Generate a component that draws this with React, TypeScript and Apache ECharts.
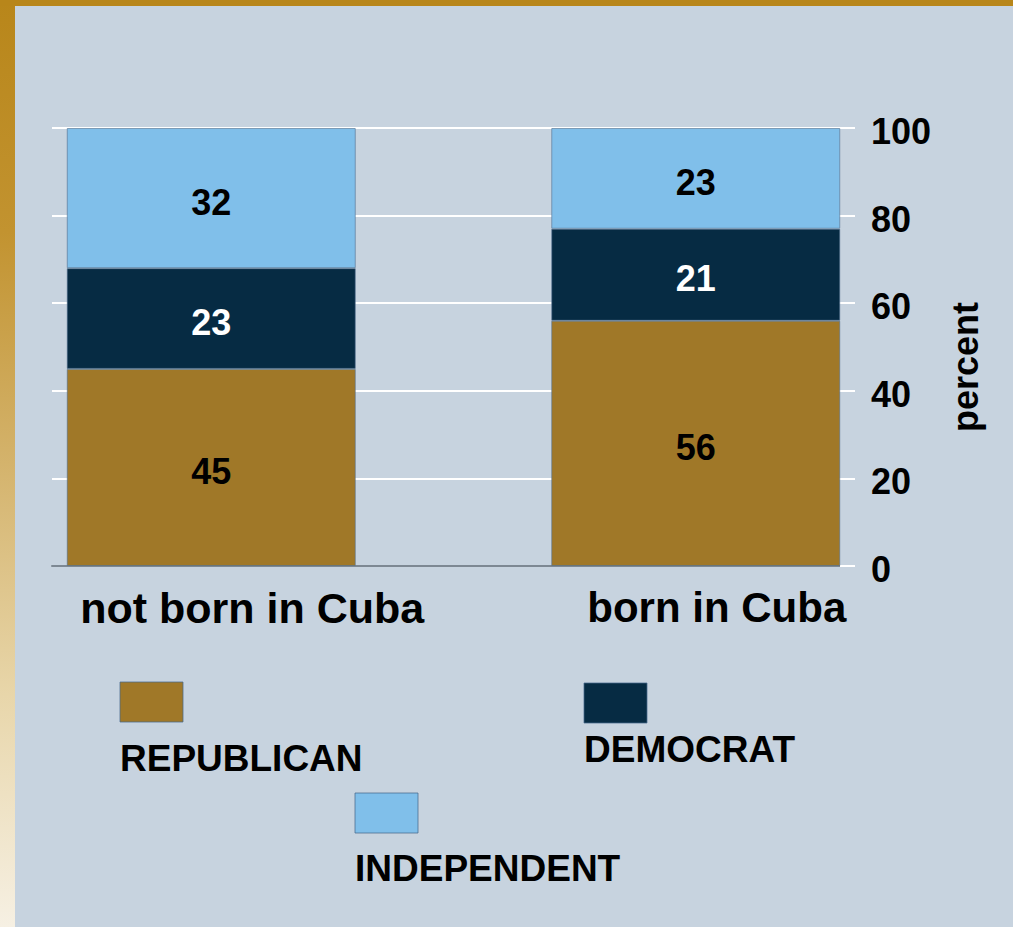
import React, { useEffect, useRef } from "react";
import * as echarts from "echarts";

const categories = ["not born in Cuba", "born in Cuba"];
const republican = [45, 56];
const democrat = [23, 21];
const independent = [32, 23];
const yTicks = [0, 20, 40, 60, 80, 100];
const axisName = "percent";

const seriesDefs = [
  { name: "REPUBLICAN", data: republican, color: "#a07828", labelColor: "#000000" },
  { name: "DEMOCRAT", data: democrat, color: "#062b43", labelColor: "#ffffff" },
  { name: "INDEPENDENT", data: independent, color: "#80bfea", labelColor: "#000000" },
];

// chart canvas is shifted left so the bar grid may start left of the page
const OFF = 31;
const CW = 1013 + OFF;

// legend layout (styling only, page coordinates)
const legendLayout = [
  { x: 120, y: 682, tx: 120, ty: 758 },
  { x: 584, y: 683, tx: 584, ty: 749 },
  { x: 355, y: 793, tx: 355, ty: 868 },
];

const FONT = "'Liberation Sans', Arial, Helvetica, sans-serif";

export default function App() {
  const ref = useRef<HTMLDivElement>(null);

  useEffect(() => {
    if (!ref.current) return;
    const chart = echarts.init(ref.current, undefined, { renderer: "svg" });

    const legendGraphics: any[] = [];
    seriesDefs.forEach((s, i) => {
      const l = legendLayout[i];
      legendGraphics.push({
        type: "rect",
        shape: { x: l.x + OFF, y: l.y, width: 63, height: 40 },
        style: { fill: s.color, stroke: "rgba(70,105,140,0.75)", lineWidth: 1 },
      });
      legendGraphics.push({
        type: "text",
        x: l.tx + OFF,
        y: l.ty,
        style: {
          text: s.name,
          fill: "#000",
          font: `bold 37px ${FONT}`,
          textAlign: "left",
          textVerticalAlign: "middle",
        },
      });
    });

    chart.setOption({
      animation: false,
      backgroundColor: "transparent",
      textStyle: { fontFamily: FONT },
      grid: [
        { left: 52 + OFF, right: 173, top: 128, bottom: 361 },
        { left: 0, right: CW - (938 + OFF), top: 128, bottom: 361 },
      ],
      xAxis: [
        {
          gridIndex: 0,
          type: "category",
          data: categories,
          axisLine: { show: true, lineStyle: { color: "#7d8893", width: 2 } },
          axisTick: { show: false },
          axisLabel: { show: false },
          splitLine: { show: false },
        },
        {
          gridIndex: 1,
          type: "category",
          data: categories,
          boundaryGap: true,
          axisLine: { show: false },
          axisTick: { show: false },
          splitLine: { show: false },
          axisLabel: {
            show: true,
            margin: 20,
            color: "#000",
            fontWeight: "bold",
            formatter: (v: string) => {
              const i = categories.indexOf(v);
              return `{c${i}|${v}}`;
            },
            rich: {
              c0: { fontSize: 43, fontWeight: "bold", color: "#000", padding: [0, 0, 0, 82], fontFamily: FONT },
              c1: { fontSize: 42, fontWeight: "bold", color: "#000", padding: [0, 0, 0, 42], fontFamily: FONT },
            },
          },
        },
      ],
      yAxis: [
        {
          gridIndex: 0,
          type: "value",
          position: "right",
          min: yTicks[0],
          max: yTicks[yTicks.length - 1],
          interval: yTicks[1] - yTicks[0],
          axisLine: { show: false },
          axisTick: { show: true, length: 15, lineStyle: { color: "#ffffff", width: 2 } },
          splitLine: { show: true, lineStyle: { color: "#ffffff", width: 2 } },
          axisLabel: {
            show: true,
            margin: 31,
            color: "#000",
            fontSize: 36,
            fontWeight: "bold",
            formatter: (v: number) => `{v|${v}}`,
            rich: {
              v: {
                fontSize: 36,
                fontWeight: "bold",
                color: "#000",
                fontFamily: FONT,
                padding: [7, 0, 0, 0],
              },
            },
          },
          name: axisName,
          nameLocation: "middle",
          nameGap: 107,
          nameTextStyle: {
            color: "#000",
            fontSize: 36,
            fontWeight: "bold",
            padding: [0, 40, 0, 0],
          },
        },
        {
          gridIndex: 1,
          type: "value",
          min: yTicks[0],
          max: yTicks[yTicks.length - 1],
          show: false,
          splitLine: { show: false },
        },
      ],
      series: seriesDefs.map((s) => ({
        type: "bar",
        name: s.name,
        xAxisIndex: 1,
        yAxisIndex: 1,
        stack: "total",
        barWidth: 289,
        data: s.data,
        itemStyle: { color: s.color, borderColor: "rgba(80,110,140,0.6)", borderWidth: 1 },
        label: {
          show: true,
          position: "inside",
          offset: [0, 4],
          color: s.labelColor,
          fontSize: 36,
          fontWeight: "bold",
          fontFamily: FONT,
        },
      })),
      graphic: legendGraphics,
    });

    return () => {
      chart.dispose();
    };
  }, []);

  return (
    <div
      style={{
        position: "fixed",
        left: 0,
        top: 0,
        width: 1013,
        height: 927,
        background:
          "linear-gradient(to bottom, #b8861a 0%, #c29330 25%, #d4b36c 50%, #e8d6aa 75%, #f6f0e3 100%)",
        overflow: "hidden",
      }}
    >
      <div
        style={{
          position: "absolute",
          left: 0,
          top: 0,
          width: 1013,
          height: 6,
          background: "#b8861a",
        }}
      />
      <div
        style={{
          position: "absolute",
          left: 15,
          top: 6,
          width: 998,
          height: 921,
          background: "#c7d3df",
        }}
      />
      <div
        ref={ref}
        style={{ position: "absolute", left: -OFF, top: 0, width: CW, height: 927 }}
      />
    </div>
  );
}
